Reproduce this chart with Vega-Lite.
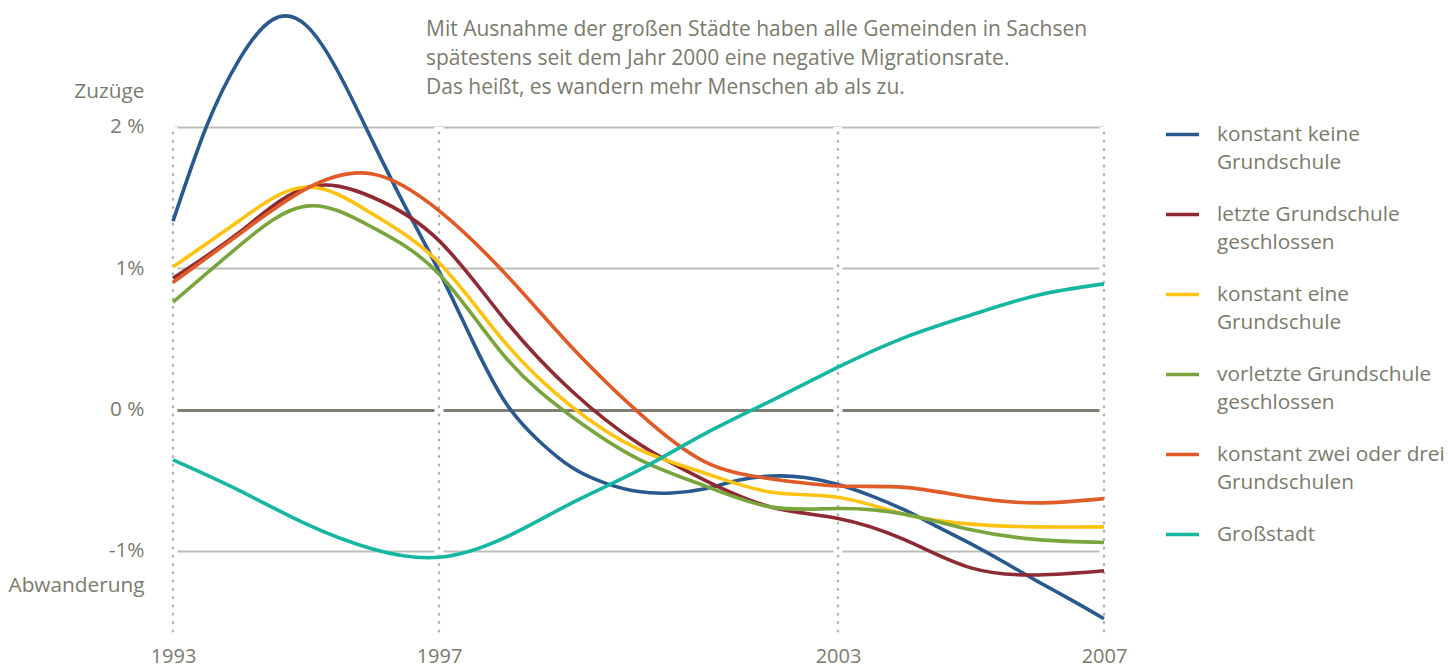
{
  "$schema": "https://vega.github.io/schema/vega-lite/v6.json",
  "width": 931,
  "height": 510,
  "autosize": {"type": "none"},
  "padding": {"left": 173, "top": 127, "right": 344, "bottom": 29},
  "background": "white",
  "config": {
    "view": {"stroke": null},
    "font": "Open Sans",
    "text": {"font": "Open Sans"}
  },
  "title": {
    "text": ["Mit Ausnahme der großen Städte haben alle Gemeinden in Sachsen", "spätestens seit dem Jahr 2000 eine negative Migrationsrate.", "Das heißt, es wandern mehr Menschen ab als zu."],
    "anchor": "start",
    "frame": "group",
    "orient": "top",
    "dx": 253,
    "offset": -89,
    "font": "Open Sans",
    "fontSize": 21,
    "fontWeight": "normal",
    "color": "#7b7b6c",
    "lineHeight": 29
  },
  "datasets": {
    "years": [{"year": 1993}, {"year": 1997}, {"year": 2003}, {"year": 2007}],
    "series": [
      {"group": "keine", "year": 1993, "rate": 1.333},
      {"group": "keine", "year": 1993.5, "rate": 2.0},
      {"group": "keine", "year": 1994, "rate": 2.48},
      {"group": "keine", "year": 1994.5, "rate": 2.76},
      {"group": "keine", "year": 1995, "rate": 2.72},
      {"group": "keine", "year": 1995.5, "rate": 2.375},
      {"group": "keine", "year": 1996, "rate": 1.9},
      {"group": "keine", "year": 1996.5, "rate": 1.43},
      {"group": "keine", "year": 1997, "rate": 0.98},
      {"group": "keine", "year": 1997.5, "rate": 0.49},
      {"group": "keine", "year": 1998, "rate": 0.05},
      {"group": "keine", "year": 1998.5, "rate": -0.22},
      {"group": "keine", "year": 1999, "rate": -0.41},
      {"group": "keine", "year": 1999.5, "rate": -0.52},
      {"group": "keine", "year": 2000, "rate": -0.58},
      {"group": "keine", "year": 2000.5, "rate": -0.59},
      {"group": "keine", "year": 2001, "rate": -0.56},
      {"group": "keine", "year": 2001.5, "rate": -0.5},
      {"group": "keine", "year": 2002, "rate": -0.47},
      {"group": "keine", "year": 2002.5, "rate": -0.48},
      {"group": "keine", "year": 2003, "rate": -0.53},
      {"group": "keine", "year": 2003.5, "rate": -0.61},
      {"group": "keine", "year": 2004, "rate": -0.71},
      {"group": "keine", "year": 2004.5, "rate": -0.83},
      {"group": "keine", "year": 2005, "rate": -0.95},
      {"group": "keine", "year": 2005.5, "rate": -1.08},
      {"group": "keine", "year": 2006, "rate": -1.215},
      {"group": "keine", "year": 2006.5, "rate": -1.345},
      {"group": "keine", "year": 2007, "rate": -1.48},

      {"group": "letzte", "year": 1993, "rate": 0.93},
      {"group": "letzte", "year": 1994, "rate": 1.255},
      {"group": "letzte", "year": 1995, "rate": 1.57},
      {"group": "letzte", "year": 1996, "rate": 1.503},
      {"group": "letzte", "year": 1997, "rate": 1.196},
      {"group": "letzte", "year": 1998, "rate": 0.63},
      {"group": "letzte", "year": 1999, "rate": 0.13},
      {"group": "letzte", "year": 2000, "rate": -0.24},
      {"group": "letzte", "year": 2001, "rate": -0.5},
      {"group": "letzte", "year": 2002, "rate": -0.69},
      {"group": "letzte", "year": 2003, "rate": -0.77},
      {"group": "letzte", "year": 2004, "rate": -0.92},
      {"group": "letzte", "year": 2005, "rate": -1.12},
      {"group": "letzte", "year": 2006, "rate": -1.17},
      {"group": "letzte", "year": 2007, "rate": -1.14},

      {"group": "eine", "year": 1993, "rate": 1.01},
      {"group": "eine", "year": 1994, "rate": 1.338},
      {"group": "eine", "year": 1995, "rate": 1.575},
      {"group": "eine", "year": 1996, "rate": 1.385},
      {"group": "eine", "year": 1997, "rate": 1.04},
      {"group": "eine", "year": 1998, "rate": 0.47},
      {"group": "eine", "year": 1999, "rate": 0.02},
      {"group": "eine", "year": 2000, "rate": -0.28},
      {"group": "eine", "year": 2001, "rate": -0.45},
      {"group": "eine", "year": 2002, "rate": -0.585},
      {"group": "eine", "year": 2003, "rate": -0.62},
      {"group": "eine", "year": 2004, "rate": -0.74},
      {"group": "eine", "year": 2005, "rate": -0.81},
      {"group": "eine", "year": 2006, "rate": -0.83},
      {"group": "eine", "year": 2007, "rate": -0.83},

      {"group": "vorletzte", "year": 1993, "rate": 0.76},
      {"group": "vorletzte", "year": 1994, "rate": 1.161},
      {"group": "vorletzte", "year": 1995, "rate": 1.44},
      {"group": "vorletzte", "year": 1996, "rate": 1.29},
      {"group": "vorletzte", "year": 1997, "rate": 0.96},
      {"group": "vorletzte", "year": 1998, "rate": 0.37},
      {"group": "vorletzte", "year": 1999, "rate": -0.05},
      {"group": "vorletzte", "year": 2000, "rate": -0.35},
      {"group": "vorletzte", "year": 2001, "rate": -0.54},
      {"group": "vorletzte", "year": 2002, "rate": -0.69},
      {"group": "vorletzte", "year": 2003, "rate": -0.7},
      {"group": "vorletzte", "year": 2004, "rate": -0.74},
      {"group": "vorletzte", "year": 2005, "rate": -0.85},
      {"group": "vorletzte", "year": 2006, "rate": -0.92},
      {"group": "vorletzte", "year": 2007, "rate": -0.94},

      {"group": "zweidrei", "year": 1993, "rate": 0.9},
      {"group": "zweidrei", "year": 1994, "rate": 1.243},
      {"group": "zweidrei", "year": 1995, "rate": 1.562},
      {"group": "zweidrei", "year": 1996, "rate": 1.668},
      {"group": "zweidrei", "year": 1997, "rate": 1.408},
      {"group": "zweidrei", "year": 1998, "rate": 0.96},
      {"group": "zweidrei", "year": 1999, "rate": 0.44},
      {"group": "zweidrei", "year": 2000, "rate": -0.02},
      {"group": "zweidrei", "year": 2001, "rate": -0.37},
      {"group": "zweidrei", "year": 2002, "rate": -0.49},
      {"group": "zweidrei", "year": 2003, "rate": -0.54},
      {"group": "zweidrei", "year": 2004, "rate": -0.55},
      {"group": "zweidrei", "year": 2005, "rate": -0.62},
      {"group": "zweidrei", "year": 2006, "rate": -0.66},
      {"group": "zweidrei", "year": 2007, "rate": -0.63},

      {"group": "gross", "year": 1993, "rate": -0.356},
      {"group": "gross", "year": 1994, "rate": -0.573},
      {"group": "gross", "year": 1995, "rate": -0.809},
      {"group": "gross", "year": 1996, "rate": -0.986},
      {"group": "gross", "year": 1997, "rate": -1.045},
      {"group": "gross", "year": 1998, "rate": -0.904},
      {"group": "gross", "year": 1999, "rate": -0.66},
      {"group": "gross", "year": 2000, "rate": -0.43},
      {"group": "gross", "year": 2001, "rate": -0.17},
      {"group": "gross", "year": 2002, "rate": 0.064},
      {"group": "gross", "year": 2003, "rate": 0.3},
      {"group": "gross", "year": 2004, "rate": 0.51},
      {"group": "gross", "year": 2005, "rate": 0.67},
      {"group": "gross", "year": 2006, "rate": 0.81},
      {"group": "gross", "year": 2007, "rate": 0.89}
    ]
  },
  "layer": [
    {
      "data": {"name": "years"},
      "mark": {"type": "rule", "stroke": "white", "strokeWidth": 9},
      "encoding": {
        "x": {"field": "year", "type": "quantitative", "scale": {"domain": [1993, 2007], "nice": false, "zero": false},
          "axis": {"values": [1993, 1997, 2003, 2007], "format": "d", "domain": false, "ticks": false, "grid": false, "labelFontSize": 20, "labelColor": "#7b7b6c", "labelPadding": 9, "labelFlush": false, "title": null, "labelFont": "Open Sans"}},
        "y": {"datum": 2, "type": "quantitative"},
        "y2": {"datum": -1.61}
      }
    },
    {
      "data": {"name": "years"},
      "mark": {"type": "rule", "stroke": "#b4b4ae", "strokeWidth": 2.5, "strokeDash": [0.5, 7.8], "strokeCap": "round"},
      "encoding": {
        "x": {"field": "year", "type": "quantitative"},
        "y": {"datum": 1.96, "type": "quantitative"},
        "y2": {"datum": -1.61}
      }
    },
    {
      "data": {"name": "series"},
      "mark": {"type": "line", "interpolate": "natural", "strokeWidth": 3.6, "clip": false},
      "encoding": {
        "x": {"field": "year", "type": "quantitative"},
        "y": {"field": "rate", "type": "quantitative",
          "scale": {"domain": [-1.609, 2], "nice": false, "zero": false},
          "axis": {"values": [2, 1, 0, -1], "domain": false, "ticks": false, "title": null,
            "labelExpr": "datum.value == 2 ? ['Zuzüge', '2 %'] : datum.value == 1 ? '1%' : datum.value == 0 ? '0 %' : ['-1%', 'Abwanderung']",
            "labelOffset": {"condition": {"test": "datum.value == 2", "value": -36}, "value": 0},
            "labelFontSize": 20.8, "labelColor": "#7b7b6c", "labelPadding": 29, "labelLineHeight": 35, "labelFont": "Open Sans",
            "grid": true,
            "gridColor": {"condition": {"test": "datum.value == 0", "value": "#7e7e72"}, "value": "#bdbdb5"},
            "gridWidth": {"condition": {"test": "datum.value == 0", "value": 3}, "value": 2.2}
          }},
        "color": {"field": "group", "type": "nominal",
          "scale": {"domain": ["keine", "letzte", "eine", "vorletzte", "zweidrei", "gross"],
            "range": ["#2a5990", "#8e2a33", "#fec20f", "#79a63c", "#e05b27", "#15b7a1"]},
          "legend": {
            "orient": "none", "legendX": 991, "legendY": -11, "direction": "vertical", "title": null,
            "symbolType": "stroke", "symbolStrokeWidth": 3.5, "symbolSize": 1089,
            "labelFontSize": 20.8, "labelColor": "#7b7b6c", "labelFont": "Open Sans",
            "labelOffset": 16, "labelLimit": 400, "rowPadding": 23, "padding": 0, "labelBaseline": "middle",
            "labelExpr": "datum.value == 'keine' ? ['konstant keine', 'Grundschule'] : datum.value == 'letzte' ? ['letzte Grundschule', 'geschlossen'] : datum.value == 'eine' ? ['konstant eine', 'Grundschule'] : datum.value == 'vorletzte' ? ['vorletzte Grundschule', 'geschlossen'] : datum.value == 'zweidrei' ? ['konstant zwei oder drei', 'Grundschulen'] : 'Großstadt'",
            "encode": {"labels": {"update": {"lineHeight": {"value": 28}}}}
          }
        }
      }
    }
  ]
}
